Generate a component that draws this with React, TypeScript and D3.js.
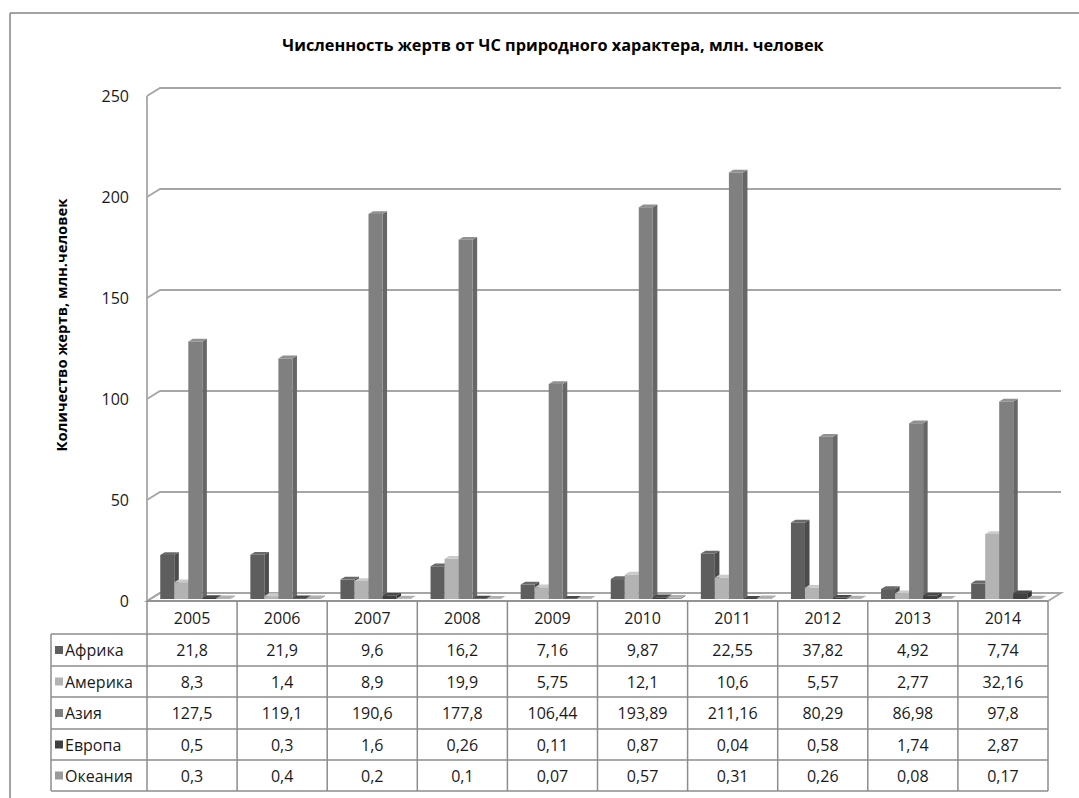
import React from "react";
import * as d3 from "d3";

const years = ["2005", "2006", "2007", "2008", "2009", "2010", "2011", "2012", "2013", "2014"];
const seriesNames = ["Африка", "Америка", "Азия", "Европа", "Океания"];
const africa = [21.8, 21.9, 9.6, 16.2, 7.16, 9.87, 22.55, 37.82, 4.92, 7.74];
const america = [8.3, 1.4, 8.9, 19.9, 5.75, 12.1, 10.6, 5.57, 2.77, 32.16];
const asia = [127.5, 119.1, 190.6, 177.8, 106.44, 193.89, 211.16, 80.29, 86.98, 97.8];
const europe = [0.5, 0.3, 1.6, 0.26, 0.11, 0.87, 0.04, 0.58, 1.74, 2.87];
const oceania = [0.3, 0.4, 0.2, 0.1, 0.07, 0.57, 0.31, 0.26, 0.08, 0.17];
const yTicks = [0, 50, 100, 150, 200, 250];
const seriesColors = ["#5e5e5e", "#b3b3b3", "#808080", "#404040", "#9a9a9a"];

const seriesValues = [africa, america, asia, europe, oceania];

const title = "Численность жертв от ЧС природного характера, млн. человек";
const yTitle = "Количество жертв, млн.человек";

const FONT = "'Open Sans', 'Noto Sans', sans-serif";

export default function App() {
  const W = 1079, H = 798;
  const DX = 13, DY = 8;
  const left = 147, right = 1048, floorY = 601;
  const y = d3.scaleLinear().domain([0, 250]).range([floorY, 96]);
  const x = d3.scaleBand().domain(years).range([left, right]);
  const inner = d3.scaleBand().domain(seriesNames).range([10, x.bandwidth() - 10]);
  const z0 = 0.25, z1 = 0.6;
  const P = (px: number, py: number, z: number) => [px + z * DX, py - z * DY];
  const pts = (arr: number[][]) => arr.map((p) => p.join(",")).join(" ");

  const gridColor = "#a6a6a6";
  const tableColor = "#8c8c8c";
  const rowEdges = [601, 634, 666, 697, 729, 760, 791];
  const labelLeft = 51;
  const fs = 16;

  const bars: JSX.Element[] = [];
  years.forEach((yr, i) => {
    seriesNames.forEach((s, k) => {
      const v = seriesValues[k][i];
      const xa = (x(yr) as number) + (inner(s) as number);
      const xb = xa + inner.bandwidth();
      const yt = y(v);
      const yb = y(0);
      const c = d3.color(seriesColors[k])!;
      const side = c.darker(0.6).formatHex();
      const top = c.brighter(0.35).formatHex();
      const front = [P(xa, yt, z0), P(xb, yt, z0), P(xb, yb, z0), P(xa, yb, z0)];
      const sideF = [P(xb, yt, z0), P(xb, yt, z1), P(xb, yb, z1), P(xb, yb, z0)];
      const topF = [P(xa, yt, z0), P(xa, yt, z1), P(xb, yt, z1), P(xb, yt, z0)];
      bars.push(
        <g key={`${yr}-${s}`}>
          <polygon points={pts(sideF)} fill={side} />
          <polygon points={pts(topF)} fill={top} />
          <polygon points={pts(front)} fill={seriesColors[k]} />
        </g>
      );
    });
  });

  return (
    <svg width={W} height={H} style={{ position: "absolute", left: 0, top: 0, display: "block" }} fontFamily={FONT}>
      <rect x={0} y={0} width={W} height={H} fill="#fff" />
      {/* frame */}
      <line x1={10} y1={13} x2={W} y2={13} stroke="#858585" strokeWidth={1.5} />
      <line x1={10} y1={13} x2={10} y2={H} stroke="#858585" strokeWidth={1.5} />
      <text x={553} y={51} textAnchor="middle" fontWeight="bold" fontSize={16.3} fill="#000">{title}</text>
      <text transform={`translate(67,${325}) rotate(-90)`} textAnchor="middle" fontWeight="bold" fontSize={14.8} fill="#000">{yTitle}</text>
      {/* floor */}
      <polygon points={pts([[left, floorY], [right, floorY], P(right, floorY, 1), P(left, floorY, 1)])} fill="#fff" stroke={gridColor} strokeWidth={1.8} />
      {/* gridlines */}
      {yTicks.map((t) => (
        <g key={t}>
          <polyline points={pts([[left, y(t)], P(left, y(t), 1), P(right, y(t), 1)])} fill="none" stroke={gridColor} strokeWidth={1.8} />
          <text x={129} y={y(t) + 6} textAnchor="end" fontSize={fs} fill="#1a1a1a">{t}</text>
        </g>
      ))}
      <line x1={left} y1={y(250)} x2={left} y2={floorY} stroke={gridColor} strokeWidth={1.8} />
      {bars}
      {/* table */}
      <g stroke={tableColor} strokeWidth={1.5}>
        {rowEdges.map((ry, r) => (
          <line key={r} x1={r === 0 ? left : labelLeft} y1={ry} x2={right} y2={ry} />
        ))}
        <line x1={labelLeft} y1={rowEdges[1]} x2={labelLeft} y2={rowEdges[6]} />
        {years.map((yr) => (
          <line key={yr} x1={x(yr) as number} y1={rowEdges[0]} x2={x(yr) as number} y2={rowEdges[6]} />
        ))}
        <line x1={right} y1={rowEdges[0]} x2={right} y2={rowEdges[6]} />
      </g>
      {years.map((yr) => (
        <text key={yr} x={(x(yr) as number) + x.bandwidth() / 2} y={(rowEdges[0] + rowEdges[1]) / 2 + 6} textAnchor="middle" fontSize={fs} fill="#1a1a1a">{yr}</text>
      ))}
      {seriesNames.map((s, k) => {
        const cy = (rowEdges[k + 1] + rowEdges[k + 2]) / 2;
        return (
          <g key={s}>
            <rect x={55} y={cy - 4} width={8} height={8} fill={seriesColors[k]} />
            <text x={65} y={cy + 6} fontSize={fs} fill="#1a1a1a">{s}</text>
            {years.map((yr, i) => (
              <text key={yr} x={(x(yr) as number) + x.bandwidth() / 2} y={cy + 6} textAnchor="middle" fontSize={fs} fill="#1a1a1a">
                {String(seriesValues[k][i]).replace(".", ",")}
              </text>
            ))}
          </g>
        );
      })}
    </svg>
  );
}
